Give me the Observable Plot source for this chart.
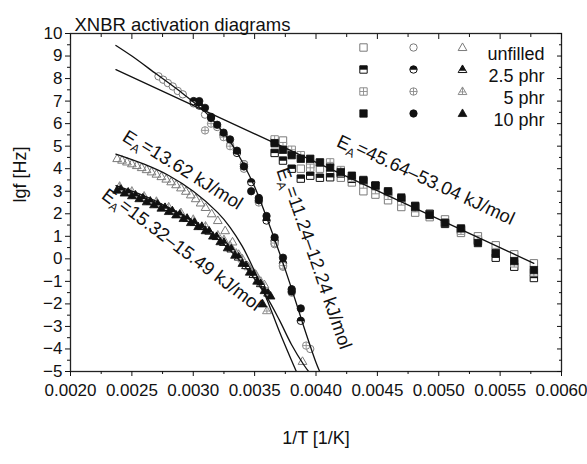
<!DOCTYPE html>
<html><head><meta charset="utf-8">
<script src="https://cdn.jsdelivr.net/npm/d3@7"></script>
<script src="https://cdn.jsdelivr.net/npm/@observablehq/plot@0.6"></script>
<style>body{margin:0;background:#fff}#chart svg{display:block}</style>
</head><body><div id="chart"></div>
<script>
// ---------- tick values ----------
const xMajorTicks = [0.0020,0.0025,0.0030,0.0035,0.0040,0.0045,0.0050,0.0055,0.0060];
const xMinorTicks = [0.00225,0.00275,0.00325,0.00375,0.00425,0.00475,0.00525,0.00575];
const yMajorTicks = [-5,-4,-3,-2,-1,0,1,2,3,4,5,6,7,8,9,10];
const yMinorTicks = [-4.5,-3.5,-2.5,-1.5,-0.5,0.5,1.5,2.5,3.5,4.5,5.5,6.5,7.5,8.5,9.5];
const legendLabels = ["unfilled","2.5 phr","5 phr","10 phr"];

// ---------- squares (EA = 45.64–53.04) ----------
const sqX = [0.003663,0.003731,0.003802,0.003876,0.003953,0.004032,0.004115,0.004202,0.004292,0.004386,0.004484,0.004587,0.004695,0.004808,0.004926,0.005051,0.005181,0.005319,0.005464,0.005615,0.005775];
const sqUnfilled = [5.2,5.25,4.75,4.0,4.2,4.0,3.75,3.6,3.39,3.0,2.85,2.6,2.3,2.05,1.85,1.75,1.15,1.0,0.6,0.2,-0.2];
const sq25 = [4.7,4.36,4.0,3.56,3.69,3.6,3.62,3.79,3.55,3.45,3.25,2.95,2.65,2.35,2.0,1.55,1.3,0.8,0.05,-0.35,-0.85];
const sq5 = [5.3,5.0,4.84,4.6,4.04,4.27,4.28,3.94,3.6,3.3,3.05,2.8,2.55,2.25,1.95,1.6,1.25,0.85,0.3,-0.2,-0.6];
const sq10 = [5.13,4.84,4.6,4.44,4.44,4.28,4.05,3.85,3.69,3.5,3.25,3.0,2.72,2.3,1.95,1.6,1.35,0.7,0.25,-0.1,-0.5];

// ---------- circles (EA = 11.24–12.24) ----------
const circUnfilledX = [0.002717,0.002755,0.002793,0.002833,0.002874,0.002915,0.003003,0.003096,0.003195,0.0033,0.003413,0.003534,0.003663,0.003731,0.003802,0.003953];
const circUnfilled = [8.1,7.95,7.8,7.65,7.45,7.3,6.9,6.4,5.85,5.05,4.0,2.55,0.65,-0.35,-1.5,-4.0];
const circ25X = [0.003003,0.003049,0.003145,0.003247,0.003356,0.003413,0.003472,0.003534,0.003597,0.003663,0.003731,0.003802,0.003876];
const circ25 = [7.0,6.8,6.3,5.5,4.7,4.2,3.4,2.7,1.7,0.8,-0.2,-1.35,-2.75];
const circ5X = [0.003096,0.003145,0.003247,0.0033,0.003413,0.003534,0.003663,0.003731,0.00392];
const circ5 = [5.7,6.0,5.4,5.0,4.2,2.5,0.7,-0.3,-3.85];
const circ10X = [0.003049,0.003096,0.003145,0.003195,0.003247,0.0033,0.003356,0.003413,0.003472,0.003534,0.003597,0.003663,0.003731,0.003802,0.003876];
const circ10 = [7.0,6.7,6.25,5.95,5.6,5.3,4.8,4.1,3.0,2.6,1.9,0.95,0.05,-1.45,-2.2];

// ---------- triangles (EA = 13.62 / 15.32–15.49) ----------
const triUnfilledX = [0.00238,0.00242,0.00246,0.0025,0.00254,0.00258,0.00262,0.00266,0.0027,0.00274,0.00278,0.00282,0.00286,0.0029,0.00294,0.00298,0.00302,0.00306,0.0031,0.00315,0.0032,0.00326,0.00332,0.00337,0.00344,0.00351,0.00358,0.00389];
const triUnfilled = [4.45,4.38,4.3,4.22,4.14,4.05,3.96,3.86,3.76,3.65,3.54,3.42,3.29,3.15,3.0,2.84,2.67,2.48,2.28,2.0,1.7,1.25,0.75,0.2,-0.3,-0.7,-1.15,-4.55];
const tri25X = [0.00241,0.00247,0.00253,0.00259,0.00265,0.00271,0.00277,0.00283,0.00289,0.00295,0.00301,0.00307,0.00313,0.00319,0.00325,0.00331,0.00337,0.00343,0.00349,0.00355,0.00361];
const tri25 = [3.09,2.96,2.83,2.70,2.56,2.43,2.28,2.13,1.98,1.80,1.62,1.44,1.23,0.99,0.73,0.44,0.08,-0.30,-0.69,-1.10,-1.52];
const tri5X = [0.0024,0.0025,0.0026,0.0027,0.0028,0.0029,0.003,0.0031,0.0032,0.00325,0.0033,0.00335,0.0034,0.00345,0.0035,0.00355,0.0036];
const tri5 = [3.22,3.0,2.78,2.55,2.3,2.05,1.75,1.45,1.05,0.85,0.6,0.25,0.0,-0.35,-0.65,-1.0,-2.3];
const tri10X = [0.00238,0.00244,0.0025,0.00256,0.00262,0.00268,0.00274,0.0028,0.00286,0.00292,0.00298,0.00304,0.0031,0.00316,0.00322,0.00328,0.00334,0.0034,0.00346,0.00352,0.003565,0.00358,0.00363];
const tri10 = [3.05,2.92,2.8,2.67,2.53,2.40,2.25,2.10,1.95,1.79,1.61,1.43,1.25,1.01,0.76,0.49,0.16,-0.20,-0.59,-0.99,-2.0,-1.41,-1.65];

// ---------- fit lines ----------
const fitSqX = [0.00237,0.005775];
const fitSqY = [8.4,-0.2];
const fitCircX = [0.00237,0.0025,0.0027,0.0029,0.0031,0.0032,0.0033,0.0034,0.0035,0.0036,0.0037,0.0038,0.0039,0.004,0.00403];
const fitCircY = [9.47,9.0,8.2,7.4,6.5,5.9,5.2,4.3,3.2,1.8,0.3,-1.3,-3.0,-4.6,-5.0];
const fitTriOpenX = [0.00237,0.0026,0.0028,0.003,0.0032,0.0033,0.0034,0.0035,0.0036,0.0037,0.0038,0.00384];
const fitTriOpenY = [4.65,4.2,3.7,3.0,2.05,1.4,0.55,-0.55,-1.8,-3.2,-4.5,-5.0];
const fitTriX = [0.00237,0.0026,0.0028,0.003,0.0032,0.0034,0.0035,0.0036,0.0037,0.0038,0.0039,0.00394];
const fitTriY = [3.25,2.8,2.28,1.65,0.88,-0.2,-0.9,-1.7,-2.7,-3.8,-4.7,-5.0];

// ---------- fit annotations ----------
const fitLabelText = ["EA=45.64–53.04 kJ/mol","EA=11.24–12.24 kJ/mol","EA=13.62 kJ/mol","EA=15.32–15.49 kJ/mol"];
const fitLabelX = [0.00489,0.003975,0.00291,0.0029];
const fitLabelY = [3.45,0.0,3.9,0.36];
const fitLabelAngle = [25,71,32,37];

// ---------- helpers ----------
const pts = (xs, ys) => xs.map((x, i) => ({x, y: ys[i]}));
const rad = s => Math.sqrt(s / Math.PI);
const SYM = {
  square: {draw(c,s){const r=rad(s); c.rect(-r,-r,2*r,2*r);}},
  squareTop: {draw(c,s){const r=rad(s); c.rect(-r,-r,2*r,r*1.05);}},
  squareCross: {draw(c,s){const r=rad(s); c.moveTo(-r,0);c.lineTo(r,0);c.moveTo(0,-r);c.lineTo(0,r);}},
  circle: {draw(c,s){const r=rad(s); c.moveTo(r,0); c.arc(0,0,r,0,2*Math.PI);}},
  circleTop: {draw(c,s){const r=rad(s); c.moveTo(-r,0.1*r); c.lineTo(r,0.1*r); c.arc(0,0,r,0.1,Math.PI-0.1,true); c.closePath();}},
  circleCross: {draw(c,s){const r=rad(s); c.moveTo(-r,0);c.lineTo(r,0);c.moveTo(0,-r);c.lineTo(0,r);}},
  triangle: {draw(c,s){const r=rad(s); c.moveTo(0,-1.2*r); c.lineTo(1.15*r,0.8*r); c.lineTo(-1.15*r,0.8*r); c.closePath();}},
  triangleTop: {draw(c,s){const r=rad(s); const k=1.15*(1.2+0.35)/2.0; c.moveTo(0,-1.2*r); c.lineTo(k*r,0.35*r); c.lineTo(-k*r,0.35*r); c.closePath();}},
  triangleCross: {draw(c,s){const r=rad(s); c.moveTo(0,-1.2*r);c.lineTo(0,0.8*r);c.moveTo(-0.75*r,0.1*r);c.lineTo(0.75*r,0.1*r);}}
};
const OPEN = "#7a7a7a", CROSS = "#8c8c8c", INK = "#111";
function markers(data, shape, style, opts) {
  const base = {...opts, r: shape === "triangle" ? 3.8 : 3.7};
  const S = SYM[shape];
  if (style === "open") return [Plot.dot(data, {...base, symbol: S, fill: shape === "triangle" ? "none" : "white", stroke: OPEN, strokeWidth: 1})];
  if (style === "half") return [
    Plot.dot(data, {...base, symbol: S, fill: "white", stroke: INK, strokeWidth: 1}),
    Plot.dot(data, {...base, symbol: SYM[shape + "Top"], fill: INK, stroke: "none"})];
  if (style === "cross") return [
    Plot.dot(data, {...base, symbol: S, fill: shape === "triangle" ? "none" : "white", stroke: CROSS, strokeWidth: 1}),
    Plot.dot(data, {...base, symbol: SYM[shape + "Cross"], fill: "none", stroke: CROSS, strokeWidth: 0.9})];
  return [Plot.dot(data, {...base, symbol: S, fill: INK, stroke: INK, strokeWidth: 0.8})];
}
const XY = {x: "x", y: "y"};
const styles = ["open","half","cross","filled"];

const seriesMarks = [
  ...markers(pts(sqX, sqUnfilled), "square", "open", XY),
  ...markers(pts(sqX, sq25), "square", "half", XY),
  ...markers(pts(sqX, sq5), "square", "cross", XY),
  ...markers(pts(sqX, sq10), "square", "filled", XY),
  ...markers(pts(circUnfilledX, circUnfilled), "circle", "open", XY),
  ...markers(pts(circ25X, circ25), "circle", "half", XY),
  ...markers(pts(circ5X, circ5), "circle", "cross", XY),
  ...markers(pts(circ10X, circ10), "circle", "filled", XY),
  ...markers(pts(triUnfilledX, triUnfilled), "triangle", "open", XY),
  ...markers(pts(tri5X, tri5), "triangle", "cross", XY),
  ...markers(pts(tri25X, tri25), "triangle", "half", XY),
  ...markers(pts(tri10X, tri10), "triangle", "filled", XY)
];

// legend
const legendCols = [["square", -198], ["circle", -148], ["triangle", -99]];
const legendRowDy = [14, 36, 58, 80];
const legendMarks = [];
legendLabels.forEach((lab, i) => {
  legendCols.forEach(([shape, dx]) => {
    legendMarks.push(...markers([0], shape, styles[i], {frameAnchor: "top-right", dx, dy: legendRowDy[i]}));
  });
  legendMarks.push(Plot.text([lab], {frameAnchor: "top-right", dx: -17, dy: legendRowDy[i], text: d => d, textAnchor: "end", fontSize: 18, fill: INK}));
});

const lineOpts = {x: "x", y: "y", stroke: INK, strokeWidth: 1.3, clip: true};
const fitLabels = fitLabelText.map((t, i) => ({t, x: fitLabelX[i], y: fitLabelY[i], a: fitLabelAngle[i]}));

const chart = Plot.plot({
  width: 587, height: 464,
  marginLeft: 70, marginRight: 26, marginTop: 33, marginBottom: 93,
  x: {domain: [0.002, 0.006]},
  y: {domain: [-5, 10]},
  style: {fontFamily: "'Liberation Sans', Arial, Helvetica, sans-serif", fontSize: "17px", background: "white", color: INK},
  marks: [
    ...seriesMarks,
    Plot.line(pts(fitSqX, fitSqY), lineOpts),
    Plot.line(pts(fitCircX, fitCircY), {...lineOpts, curve: "catmull-rom"}),
    Plot.line(pts(fitTriOpenX, fitTriOpenY), {...lineOpts, curve: "catmull-rom"}),
    Plot.line(pts(fitTriX, fitTriY), {...lineOpts, curve: "catmull-rom"}),
    Plot.text(fitLabels, {x: "x", y: "y", text: "t", rotate: "a", fontSize: 18.5, fill: INK, className: "fitlabel"}),
    ...legendMarks,
    Plot.frame({stroke: "#222", strokeWidth: 1.3}),
    Plot.axisX(xMajorTicks, {anchor: "bottom", tickSize: 5, tickPadding: 7, tickFormat: d => d.toFixed(4), label: null, fontSize: 17}),
    Plot.axisX(xMinorTicks, {anchor: "bottom", tickSize: 3, tickFormat: () => "", label: null}),
    Plot.axisX(xMajorTicks, {anchor: "top", tickSize: -5, tickFormat: () => "", label: null}),
    Plot.axisX(xMinorTicks, {anchor: "top", tickSize: -3, tickFormat: () => "", label: null}),
    Plot.axisY(yMajorTicks, {anchor: "left", tickSize: 5, tickPadding: 3, label: null, fontSize: 17}),
    Plot.axisY(yMinorTicks, {anchor: "left", tickSize: 3, tickFormat: () => "", label: null}),
    Plot.axisY(yMajorTicks, {anchor: "right", tickSize: -5, tickFormat: () => "", label: null}),
    Plot.axisY(yMinorTicks, {anchor: "right", tickSize: -3, tickFormat: () => "", label: null}),
    Plot.text(["XNBR activation diagrams"], {frameAnchor: "top-left", dx: 4, dy: -16, text: d => d, textAnchor: "start", fontSize: 18.5, fill: INK}),
    Plot.text(["lgf [Hz]"], {frameAnchor: "left", dx: -50, rotate: -90, text: d => d, fontSize: 18, fill: INK}),
    Plot.text(["1/T [1/K]"], {frameAnchor: "bottom", dy: 72, text: d => d, fontSize: 18, fill: INK})
  ]
});

// subscript A in E_A labels
const ns = "http://www.w3.org/2000/svg";
chart.querySelectorAll("g.fitlabel text").forEach(t => {
  const s = t.textContent; t.textContent = "";
  const a = document.createElementNS(ns, "tspan"); a.textContent = "E";
  const b = document.createElementNS(ns, "tspan"); b.textContent = "A"; b.setAttribute("dy", "0.32em"); b.setAttribute("font-size", "12");
  const c = document.createElementNS(ns, "tspan"); c.textContent = s.slice(2); c.setAttribute("dy", "-0.32em");
  t.append(a, b, c);
});
document.getElementById("chart").append(chart);
</script></body></html>
